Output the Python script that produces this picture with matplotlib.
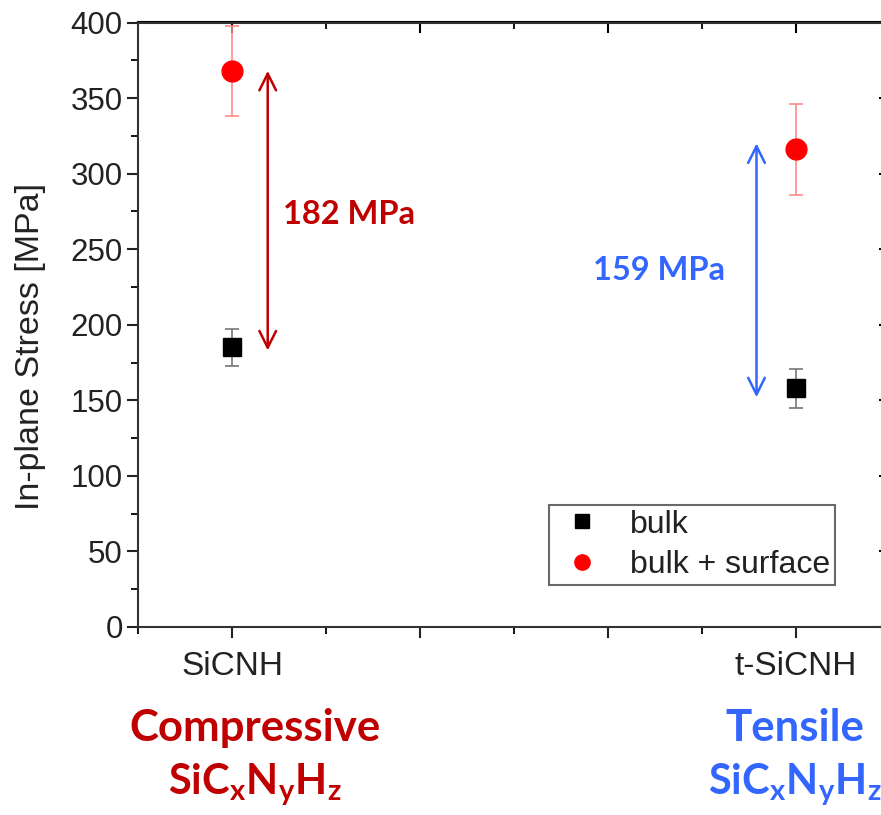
import matplotlib
matplotlib.use("Agg")
import matplotlib.pyplot as plt
from matplotlib.ticker import FixedLocator, NullFormatter
from matplotlib.lines import Line2D

plt.rcParams['font.family'] = ['Liberation Sans', 'DejaVu Sans']
plt.rcParams['mathtext.fontset'] = 'custom'
plt.rcParams['mathtext.rm'] = 'Lato:bold'
plt.rcParams['mathtext.it'] = 'Lato:bold'
plt.rcParams['mathtext.bf'] = 'Lato:bold'

# Data
categories = ["SiCNH", "t-SiCNH"]
x_pos = [1, 4]
bulk = [185, 158]
bulk_err = [12, 13]
surf = [368, 316]
surf_err = [30, 30]
diff_labels = ["182 MPa", "159 MPa"]

dark_red = "#C00000"
blue = "#3366FF"

fig = plt.figure(figsize=(8.81, 8.15), dpi=100)
ax = fig.add_axes([138/881, 1-627/815, (890-138)/881, (627-22.5)/815])

ax.errorbar(x_pos, bulk, yerr=bulk_err, fmt='s', color='black', ms=13,
            ecolor='#777777', elinewidth=1.2, capsize=5, capthick=1.2, zorder=3)
ax.errorbar(x_pos, surf, yerr=surf_err, fmt='o', color='#FF0000', ms=15,
            ecolor='#FF8A8A', elinewidth=1.2, capsize=5, capthick=1.2, zorder=3)

ax.set_xlim(0.5, 4.5)
ax.set_ylim(0, 400)

ax.xaxis.set_major_locator(FixedLocator([1, 2, 3, 4]))
ax.xaxis.set_minor_locator(FixedLocator([0.5, 1.5, 2.5, 3.5]))
ax.set_xticklabels([categories[0], "", "", categories[1]])
ax.yaxis.set_major_locator(FixedLocator(range(0, 401, 50)))
ax.yaxis.set_minor_locator(FixedLocator(range(25, 400, 50)))

ax.tick_params(axis='both', which='major', direction='out', length=8, width=1.5,
               labelsize=22.5, colors='#222222')
ax.tick_params(axis='both', which='minor', direction='out', length=5, width=1.3)
ax.tick_params(axis='x', which='major', labelsize=24, pad=9)
ax.tick_params(axis='y', which='major', pad=3)

for s in ax.spines.values():
    s.set_linewidth(1.5)
    s.set_color('#333333')

# top / right inward ticks
secx = ax.secondary_xaxis('top')
secx.xaxis.set_major_locator(FixedLocator([1, 2, 3, 4]))
secx.xaxis.set_minor_locator(FixedLocator([1.5, 2.5, 3.5]))
secx.xaxis.set_major_formatter(NullFormatter())
secx.tick_params(which='major', direction='in', length=8, width=1.5)
secx.tick_params(which='minor', direction='in', length=5, width=1.3)
secx.spines['top'].set_linewidth(1.5)
secy = ax.secondary_yaxis('right')
secy.yaxis.set_major_locator(FixedLocator(range(0, 401, 50)))
secy.yaxis.set_minor_locator(FixedLocator(range(25, 400, 50)))
secy.yaxis.set_major_formatter(NullFormatter())
secy.tick_params(which='major', direction='in', length=8, width=1.5)
secy.tick_params(which='minor', direction='in', length=5, width=1.3)

ax.set_ylabel("In-plane Stress [MPa]", fontsize=24.5, color='#222222')
ax.yaxis.set_label_coords(-(138-46)/752, (627-347)/604.5)

# Difference arrows
ax.annotate("", xy=(1.19, surf[0]), xytext=(1.19, 183),
            arrowprops=dict(arrowstyle='<->', color=dark_red, lw=1.8,
                            mutation_scale=30, shrinkA=0, shrinkB=0))
ax.annotate("", xy=(3.79, 320), xytext=(3.79, 152),
            arrowprops=dict(arrowstyle='<->', color=blue, lw=1.8,
                            mutation_scale=30, shrinkA=0, shrinkB=0))
ax.text(1.27, 273, diff_labels[0], color=dark_red, fontsize=23.5,
        fontfamily='Lato', fontweight='bold', va='center', ha='left')
ax.text(2.92, 236, diff_labels[1], color=blue, fontsize=23.5,
        fontfamily='Lato', fontweight='bold', va='center', ha='left')

handles = [Line2D([], [], ls='none', marker='s', color='black', ms=10),
           Line2D([], [], ls='none', marker='o', color='#FF0000', ms=11)]
leg = ax.legend(handles, ['bulk', 'bulk + surface'], loc='lower left',
                bbox_to_anchor=((549-138)/752, (627-585)/604.5),
                fontsize=23, frameon=True, fancybox=False, edgecolor='#444444',
                handletextpad=0.65, borderpad=0.15, borderaxespad=0,
                labelspacing=0.33, handlelength=1.75)
leg.get_frame().set_linewidth(1.5)
for t in leg.get_texts():
    t.set_color('#222222')

# Bottom labels
fig.text(255/881, 1-728/815, "Compressive", color=dark_red, fontsize=31.5,
         fontfamily='Lato', fontweight='bold', ha='center', va='center')
fig.text(255/881, 1-785/815, r"$\mathrm{SiC_xN_yH_z}$", color=dark_red, fontsize=30,
         ha='center', va='center')
fig.text(795/881, 1-728/815, "Tensile", color=blue, fontsize=31.5,
         fontfamily='Lato', fontweight='bold', ha='center', va='center')
fig.text(795/881, 1-785/815, r"$\mathrm{SiC_xN_yH_z}$", color=blue, fontsize=30,
         ha='center', va='center')

fig.savefig("out.png", dpi=100)
